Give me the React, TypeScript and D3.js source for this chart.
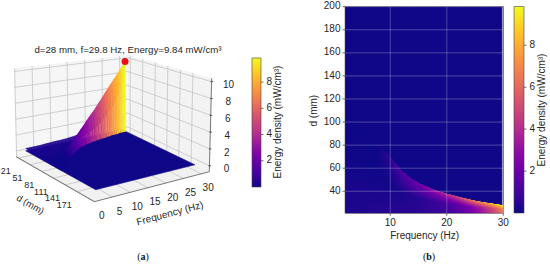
import React from "react";
import * as d3 from "d3";

// ---- data ----
const sampleFreq = [2, 4, 6, 8, 10, 12, 14, 16, 18, 20, 22, 24, 26, 28, 30];
const ridgeD = [110, 100, 90, 80, 70, 58, 50, 45, 41, 38, 35.5, 33, 31, 29.5, 28];
const ridgeE = [0.03, 0.03, 0.04, 0.06, 0.6, 1.3, 1.9, 2.5, 3.3, 4.1, 5.1, 6.2, 7.3, 8.5, 9.84];
const upperE = [0.05, 0.05, 0.05, 0.07, 0.2, 0.7, 1.1, 1.5, 2, 2.5, 3.2, 4.2, 5.2, 6.6, 8.4];
const midE = [0.08, 0.08, 0.08, 0.08, 0.1, 0.15, 0.3, 0.5, 0.8, 1.1, 1.6, 2.4, 3.5, 5, 7];
const baseE = [0.3, 0.3, 0.3, 0.35, 0.4, 0.4, 0.45, 0.55, 0.7, 0.9, 1.3, 2, 3, 4.5, 6.5];
const maxEnergy = 9.84;
const fTicks3d = [0, 5, 10, 15, 20, 25, 30];
const dTicks3d = [21, 51, 81, 111, 141, 171];
const zTicks3d = [0, 2, 4, 6, 8, 10];
const barTicks = [2, 4, 6, 8];
const heatFTicks = [10, 20, 30];
const heatDTicks = [40, 60, 80, 100, 120, 140, 160, 180, 200];

const FONT = "'Liberation Sans', Arial, sans-serif";
const INK = "#262626";

// ---- lookups over the sampled tables ----
const at = (ys: number[]) => d3.scaleLinear().domain(sampleFreq).range(ys);
const ridgeDAt = at(ridgeD), ridgeEAt = at(ridgeE), upperEAt = at(upperE), midEAt = at(midE), baseEAt = at(baseE);
const profile = (f: number) => {
  const rd = ridgeDAt(f);
  return d3.scaleLinear()
    .domain([21, (21 + rd) / 2, (21 + 3 * rd) / 4, rd])
    .range([baseEAt(f), midEAt(f), upperEAt(f), ridgeEAt(f)]);
};
const color = d3.scaleSequential(d3.interpolatePlasma).domain([0, maxEnergy]);

// ---- 3D projection: corners of the box (floor and top) ----
const box = {
  left: { floor: [16, 156.7], top: [14, 68.3] },
  back: { floor: [127.7, 131.7], top: [127.7, 55] },
  right: { floor: [209.3, 171.7], top: [211.7, 78.3] },
  front: { floor: [94.3, 201.7], top: [93, 98] },
};
const uScale = d3.scaleLinear().domain([-0.17, 32.3]).range([0, 1]);
const vScale = d3.scaleLinear().domain([15, 216]).range([0, 1]);
const wScale = d3.scaleLinear().domain([-0.7, 10.4]).range([0, 1]);
const lerp = (a: number, b: number, t: number) => a + (b - a) * t;
function bil(key: "floor" | "top", u: number, v: number, i: number) {
  return lerp(lerp(box.left[key][i], box.back[key][i], u), lerp(box.front[key][i], box.right[key][i], u), v);
}
function rawProject(u: number, v: number, w: number): [number, number] {
  return [lerp(bil("floor", u, v, 0), bil("top", u, v, 0), w), lerp(bil("floor", u, v, 1), bil("top", u, v, 1), w)];
}
const project = (f: number, d: number, z: number) => rawProject(uScale(f), vScale(d), wScale(z));
const pts = (a: [number, number][]) => a.map((p) => p.join(",")).join(" ");

function Surface3D() {
  const fs = d3.range(2, 30.01, 0.5);
  const fracs = d3.range(0, 1.0001, 1 / 8);
  const row = (f: number): [number, number][] => {
    const rd = ridgeDAt(f);
    const p = profile(f);
    const r: [number, number][] = fracs.map((t) => {
      const d = 21 + (rd - 21) * t;
      return [d, p(d)];
    });
    r.push([Math.ceil((rd + 0.5) / 2) * 2, 0.02]);
    return r;
  };
  const rows = fs.map(row);
  const polys: React.ReactNode[] = [];
  // flat far side up to d=200, drawn first
  const flat: [number, number][] = [
    project(2, 21, 0), project(30, 21, 0), project(30, 200, 0), project(2, 200, 0),
  ];
  polys.push(<polygon key="flat" points={pts(flat)} fill={color(0.05)} stroke={color(0.05)} strokeWidth={0.6} />);
  const nRows = rows[0].length;
  for (let j = 0; j < nRows - 1; j++) {
    for (let i = fs.length - 2; i >= 0; i--) {
      const a = rows[i][j], b = rows[i + 1][j], c = rows[i + 1][j + 1], e = rows[i][j + 1];
      const v = Math.max(a[1], b[1], c[1], e[1]);
      const fill = color(v);
      polys.push(
        <polygon key={i + "-" + j}
          points={pts([project(fs[i], a[0], a[1]), project(fs[i + 1], b[0], b[1]), project(fs[i + 1], c[0], c[1]), project(fs[i], e[0], e[1])])}
          fill={fill} stroke={fill} strokeWidth={0.3} />
      );
    }
  }
  return <g>{polys}</g>;
}

function Box3D() {
  const [fa, fb] = uScale.domain();
  const [da, db] = vScale.domain();
  const [za, zb] = wScale.domain();
  const gl = "#c4c4c4";
  const line = (p: [number, number], q: [number, number], k: string, s = gl) => (
    <line key={k} x1={p[0]} y1={p[1]} x2={q[0]} y2={q[1]} stroke={s} strokeWidth={0.8} />
  );
  return (
    <g>
      <polygon points={pts([project(fa, da, za), project(fb, da, za), project(fb, da, zb), project(fa, da, zb)])} fill="#f6f6f6" />
      <polygon points={pts([project(fb, da, za), project(fb, db, za), project(fb, db, zb), project(fb, da, zb)])} fill="#f3f3f3" />
      <polygon points={pts([project(fa, da, za), project(fb, da, za), project(fb, db, za), project(fa, db, za)])} fill="#f1f1f1" />
      {fTicks3d.map((f) => line(project(f, da, za), project(f, da, zb), "wf" + f))}
      {fTicks3d.map((f) => line(project(f, da, za), project(f, db, za), "ff" + f))}
      {dTicks3d.map((d) => line(project(fb, d, za), project(fb, d, zb), "wd" + d))}
      {dTicks3d.map((d) => line(project(fa, d, za), project(fb, d, za), "fd" + d))}
      {zTicks3d.map((z) => line(project(fa, da, z), project(fb, da, z), "zl" + z))}
      {zTicks3d.map((z) => line(project(fb, da, z), project(fb, db, z), "zr" + z))}
      {line(project(fa, da, za), project(fa, db, za), "e1", "#555")}
      {line(project(fa, db, za), project(fb, db, za), "e2", "#555")}
      {line(project(fb, db, za), project(fb, db, zb), "e3", "#555")}
      {zTicks3d.map((z) => {
        const p = project(fb, db, z);
        return <line key={"zt" + z} x1={p[0] - 1} y1={p[1]} x2={p[0] + 1.5} y2={p[1]} stroke="#333" strokeWidth={0.8} />;
      })}
      {zTicks3d.map((z) => {
        const p = project(fb, db, z);
        return <text key={"zx" + z} x={p[0] + 17} y={p[1] + 4} textAnchor="middle" dominantBaseline="middle" fontSize={10} fontFamily={FONT} fill={INK}>{z}</text>;
      })}
      {fTicks3d.map((f) => {
        const p = project(f, db, za);
        return <text key={"fx" + f} x={p[0] + 7} y={p[1] + 15} textAnchor="middle" dominantBaseline="middle" fontSize={10} fontFamily={FONT} fill={INK}>{f}</text>;
      })}
      {dTicks3d.map((d) => {
        const p = project(fa, d, za);
        return <text key={"dx" + d} x={p[0] - 12.5} y={p[1] + 14} textAnchor="middle" dominantBaseline="middle" fontSize={9} fontFamily={FONT} fill={INK}>{d}</text>;
      })}
    </g>
  );
}

function ColorBar({ x, y0, y1, w, side }: { x: number; y0: number; y1: number; w: number; side: string }) {
  const s = d3.scaleLinear().domain([0, maxEnergy]).range([y1, y0]);
  const id = "cb" + side;
  const stops = d3.range(0, 1.0001, 0.05);
  return (
    <g>
      <defs>
        <linearGradient id={id} x1="0" y1="1" x2="0" y2="0">
          {stops.map((t) => <stop key={t} offset={t} stopColor={d3.interpolatePlasma(t)} />)}
        </linearGradient>
      </defs>
      <rect x={x} y={y0} width={w} height={y1 - y0} fill={`url(#${id})`} stroke="#444" strokeWidth={0.6} />
      {barTicks.map((t) => (
        <g key={t}>
          <line x1={x + w} x2={x + w + 2.5} y1={s(t)} y2={s(t)} stroke="#333" strokeWidth={0.7} />
          <text x={x + w + 5.5} y={s(t)} dominantBaseline="middle" fontSize={10} fontFamily={FONT} fill={INK}>{t}</text>
        </g>
      ))}
    </g>
  );
}

function Heatmap() {
  const x = d3.scaleLinear().domain([2, 30]).range([345, 503.3]);
  const y = d3.scaleLinear().domain([21, 200]).range([213.2, 6.7]);
  const step = 0.25;
  const fs = d3.range(2, 30, step);
  const colW = x(2 + step) - x(2);
  return (
    <g>
      <defs>
        {fs.map((f, i) => {
          const fm = f + step / 2;
          const rd = ridgeDAt(fm);
          const p = profile(fm);
          const ds = d3.range(0, 1.0001, 1 / 14).map((t) => 21 + (rd - 21) * t);
          const off = (d: number) => (d - 21) / (200 - 21);
          return (
            <linearGradient key={i} id={"col" + i} x1="0" y1="1" x2="0" y2="0">
              {ds.map((d) => <stop key={d} offset={off(d)} stopColor={color(p(d))} />)}
              <stop offset={off(rd) + 0.001} stopColor={color(0.04)} />
              <stop offset={1} stopColor={color(0.04)} />
            </linearGradient>
          );
        })}
      </defs>
      {fs.map((f, i) => (
        <rect key={i} x={x(f)} y={y(200)} width={i === fs.length - 1 ? colW : colW + 1} height={y(21) - y(200)} fill={`url(#col${i})`} />
      ))}
      <rect x={x(29.75)} y={y(200)} width={x(30) - x(29.75)} height={y(ridgeDAt(30)) - y(200)} fill="#8f8fb4" />
      {heatFTicks.map((t) => (
        <line key={t} x1={x(t)} x2={x(t)} y1={y(21)} y2={y(200)} stroke="#fff" strokeOpacity={0.32} strokeWidth={0.8} />
      ))}
      {heatDTicks.map((t) => (
        <line key={t} x1={x(2)} x2={x(30)} y1={y(t)} y2={y(t)} stroke="#fff" strokeOpacity={0.32} strokeWidth={0.8} />
      ))}
      <rect x={x(2)} y={y(200)} width={x(30) - x(2)} height={y(21) - y(200)} fill="none" stroke="#444" strokeWidth={0.5} />
      {heatFTicks.map((t) => (
        <g key={t}>
          <line x1={x(t)} x2={x(t)} y1={y(21)} y2={y(21) + 2.5} stroke="#333" strokeWidth={0.7} />
          <text x={x(t)} y={223.5} textAnchor="middle" dominantBaseline="middle" fontSize={10} fontFamily={FONT} fill={INK}>{t}</text>
        </g>
      ))}
      {heatDTicks.map((t) => (
        <g key={t}>
          <line x1={x(2)} x2={x(2) - 2.5} y1={y(t)} y2={y(t)} stroke="#333" strokeWidth={0.7} />
          <text x={340.5} y={y(t)} textAnchor="end" dominantBaseline="middle" fontSize={10} fontFamily={FONT} fill={INK}>{t}</text>
        </g>
      ))}
      <text x={424.7} y={236} textAnchor="middle" dominantBaseline="middle" fontSize={10} fontFamily={FONT} fill={INK}>Frequency (Hz)</text>
      <text transform="translate(314,110.7) rotate(-90)" textAnchor="middle" dominantBaseline="middle" fontSize={10} fontFamily={FONT} fill={INK}>d (mm)</text>
    </g>
  );
}

export default function App() {
  const peak = project(30, 28, maxEnergy);
  return (
    <svg width={550} height={266} viewBox="0 0 550 266" style={{ position: "fixed", left: 0, top: 0, background: "#fff" }}>
      <Box3D />
      <Surface3D />
      <circle cx={peak[0]} cy={peak[1]} r={3.5} fill="#ee1111" />
      <text x={128} y={50.5} textAnchor="middle" dominantBaseline="middle" fontSize={9.7} fontFamily={FONT} fill={INK}>d=28 mm, f=29.8 Hz, Energy=9.84 mW/cm³</text>
      <text transform="translate(170,214) rotate(-15)" textAnchor="middle" dominantBaseline="middle" fontSize={10} fontFamily={FONT} fill={INK}>Frequency (Hz)</text>
      <text transform="translate(30,205) rotate(30)" textAnchor="middle" dominantBaseline="middle" fontSize={9.5} fontFamily={FONT} fill={INK}>d (mm)</text>
      <ColorBar x={252} y0={58} y1={187} w={9} side="a" />
      <text transform="translate(278,122) rotate(-90)" textAnchor="middle" dominantBaseline="middle" fontSize={10} fontFamily={FONT} fill={INK}>Energy density (mW/cm³)</text>
      <text x={143} y={257.5} textAnchor="middle" dominantBaseline="middle" fontSize={10} fontFamily="'Liberation Serif', serif" fill="#111">(<tspan fontWeight="bold">a</tspan>)</text>

      <Heatmap />
      <ColorBar x={514} y0={6.7} y1={213} w={10} side="b" />
      <text transform="translate(542,110) rotate(-90)" textAnchor="middle" dominantBaseline="middle" fontSize={10} fontFamily={FONT} fill={INK}>Energy density (mW/cm³)</text>
      <text x={429} y={257.5} textAnchor="middle" dominantBaseline="middle" fontSize={10} fontFamily="'Liberation Serif', serif" fill="#111">(<tspan fontWeight="bold">b</tspan>)</text>
    </svg>
  );
}
